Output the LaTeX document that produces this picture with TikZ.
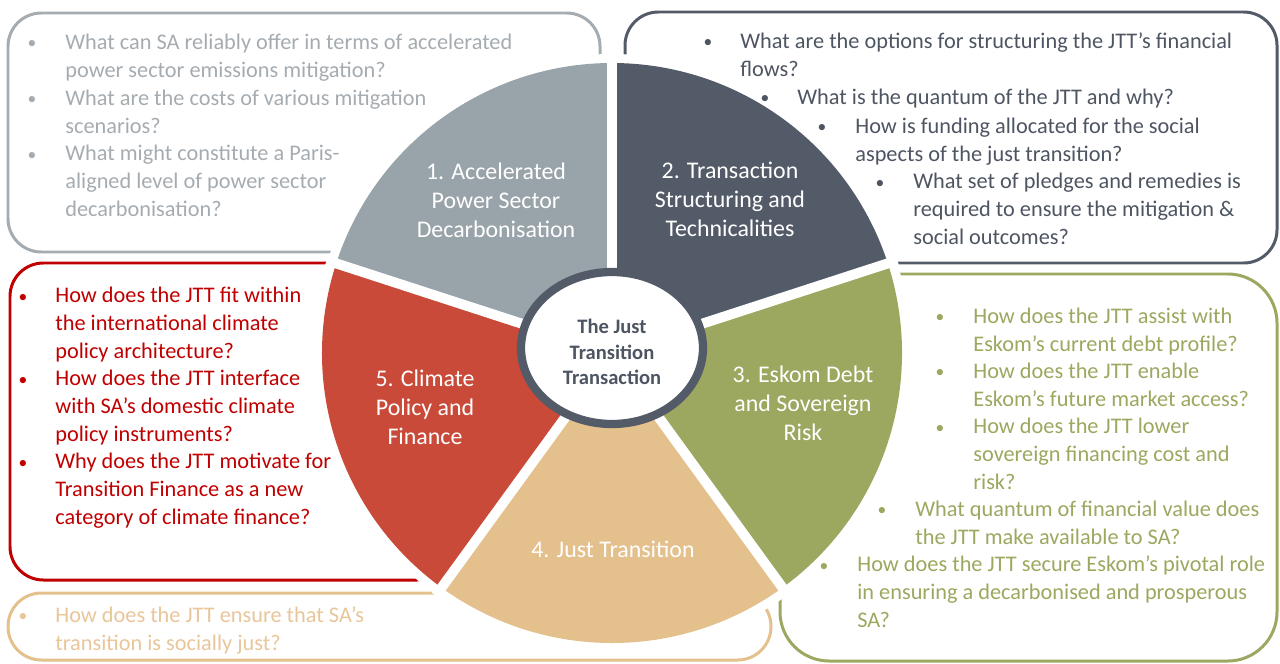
\documentclass[tikz,border=0pt]{standalone}
\usepackage{fontspec}
\setmainfont{Carlito}
\definecolor{segGray}{HTML}{99A3AA}
\definecolor{segDark}{HTML}{545B68}
\definecolor{segGreen}{HTML}{9CA75F}
\definecolor{segTan}{HTML}{E4C08D}
\definecolor{segRed}{HTML}{C94A38}
\definecolor{textGray}{HTML}{A5ACB1}
\definecolor{textDark}{HTML}{4E5562}
\definecolor{textRed}{HTML}{C00000}
\definecolor{textTan}{HTML}{E9C69A}
\tikzset{
  question/.style = {align=left, anchor=base west, inner sep=0pt,
                     font=\fontsize{12.7}{15.7}\selectfont},
  dot/.style      = {anchor=base, inner sep=0pt,
                     font=\fontsize{10}{12}\selectfont},
  qbox/.style     = {rounded corners=19pt, line width=1.7pt},
  segment/.style  = {align=center, text=white, inner sep=0pt,
                     font=\fontsize{13.6}{16.5}\selectfont},
  hub/.style      = {align=center, text=textDark, inner sep=0pt,
                     font=\bfseries\fontsize{11.7}{14.5}\selectfont}
}

\begin{document}
\begin{tikzpicture}[x=0.02cm, y=-0.02cm]
  \useasboundingbox (0,0) rectangle (1280,663);

  % question boxes
  \draw [qbox, draw=textGray] (8,13) rectangle (600,252);
  \draw [qbox, draw=segDark]  (625,12) rectangle (1277,263);
  \draw [qbox, draw=textRed]  (10,263) rectangle (450,580);
  \draw [qbox, draw=segGreen, rounded corners=28pt] (780,274) rectangle (1277,661);
  \draw [qbox, draw=segTan]   (8,593) rectangle (771,660);

  % the wheel
  \fill [white] (612,353) circle (299);
  \begin{scope}[shift={(612,353)}, yscale=-1]
    \fill [segDark]  (0,0) -- (18:290)  arc [start angle=18,  end angle=90,  radius=290] -- cycle;
    \fill [segGray]  (0,0) -- (90:290)  arc [start angle=90,  end angle=162, radius=290] -- cycle;
    \fill [segRed]   (0,0) -- (162:290) arc [start angle=162, end angle=234, radius=290] -- cycle;
    \fill [segTan]   (0,0) -- (234:290) arc [start angle=234, end angle=306, radius=290] -- cycle;
    \fill [segGreen] (0,0) -- (306:290) arc [start angle=306, end angle=378, radius=290] -- cycle;
    \foreach \a in {18,90,162,234,306}
      \draw [white, line width=5.7pt] (0,0) -- (\a:300);
  \end{scope}
  \draw [segDark, line width=4.7pt, fill=white] (612,348) ellipse [x radius=91, y radius=76];
  \node [hub] (hub) at (612,352) {The Just\\Transition\\Transaction};

  \node [segment] (s1) at (496,200) {1. Accelerated\\Power Sector\\Decarbonisation};
  \node [segment] (s2) at (730,199) {2. Transaction\\Structuring and\\Technicalities};
  \node [segment] (s3) at (803,403) {3. Eskom Debt\\and Sovereign\\Risk};
  \node [segment] (s4) at (613,549) {4. Just Transition};
  \node [segment] (s5) at (425,407) {5. Climate\\Policy and\\Finance};

  % 1. accelerated decarbonisation (y = baseline of last line)
  \node [question, text=textGray] (acc1) at (65,77)  {What can SA reliably offer in terms of accelerated\\power sector emissions mitigation?};
  \node [question, text=textGray] (acc2) at (65,133) {What are the costs of various mitigation\\scenarios?};
  \node [question, text=textGray] (acc3) at (65,216) {What might constitute a Paris-\\aligned level of power sector\\decarbonisation?};
  \foreach \y [count=\i] in {48,104,160}
    \node [dot, text=textGray] (accb\i) at (32,\y) {•};

  % 2. transaction structuring
  \node [question, text=textDark] (tx1) at (740,76)  {What are the options for structuring the JTT’s financial\\flows?};
  \node [question, text=textDark] (tx2) at (797,104) {What is the quantum of the JTT and why?};
  \node [question, text=textDark] (tx3) at (855,161) {How is funding allocated for the social\\aspects of the just transition?};
  \node [question, text=textDark] (tx4) at (913,244) {What set of pledges and remedies is\\required to ensure the mitigation \&\\social outcomes?};
  \foreach \x/\y [count=\i] in {708/47,765/103,822/132,880/188}
    \node [dot, text=textDark] (txb\i) at (\x,\y) {•};

  % 3. eskom debt
  \node [question, text=segGreen] (debt1) at (973,351) {How does the JTT assist with\\Eskom’s current debt profile?};
  \node [question, text=segGreen] (debt2) at (973,406) {How does the JTT enable\\Eskom’s future market access?};
  \node [question, text=segGreen] (debt3) at (973,489) {How does the JTT lower\\sovereign financing cost and\\risk?};
  \node [question, text=segGreen] (debt4) at (915,544) {What quantum of financial value does\\the JTT make available to SA?};
  \node [question, text=segGreen] (debt5) at (857,627) {How does the JTT secure Eskom’s pivotal role\\in ensuring a decarbonised and prosperous\\SA?};
  \foreach \x/\y [count=\i] in {940/322,940/377,940/433,882/515,824/571}
    \node [dot, text=segGreen] (debtb\i) at (\x,\y) {•};

  % 4. just transition
  \node [question, text=textTan] (jt1) at (55,650) {How does the JTT ensure that SA’s\\transition is socially just?};
  \node [dot, text=textTan] (jtb1) at (23,621) {•};

  % 5. climate policy
  \node [question, text=textRed] (cl1) at (55,358) {How does the JTT fit within\\the international climate\\policy architecture?};
  \node [question, text=textRed] (cl2) at (55,441) {How does the JTT interface\\with SA’s domestic climate\\policy instruments?};
  \node [question, text=textRed] (cl3) at (55,524) {Why does the JTT motivate for\\Transition Finance as a new\\category of climate finance?};
  \foreach \y [count=\i] in {302,385,468}
    \node [dot, text=textRed] (clb\i) at (23,\y) {•};
\end{tikzpicture}
\end{document}
